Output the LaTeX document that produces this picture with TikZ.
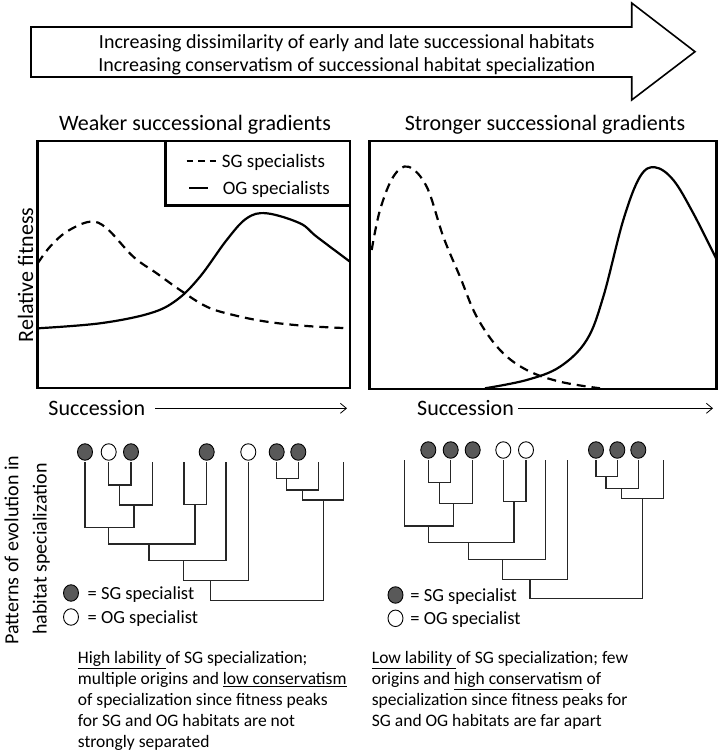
\documentclass[tikz,border=0pt]{standalone}
\usepackage{fontspec}
\setmainfont{Carlito}
\usetikzlibrary{shapes.geometric,arrows.meta}
\definecolor{sgfill}{gray}{0.35}

\begin{document}
\begin{tikzpicture}[x=1pt,y=-1pt,
    frame/.style={line width=2.6pt},
    fitcurve/.style={line width=2.2pt},
    sgcurve/.style={fitcurve, dash pattern=on 9pt off 6pt},
    branch/.style={line width=1.2pt, draw=black!85},
    sgdot/.style={ellipse, draw, line width=0.9pt, fill=sgfill, minimum width=15pt, minimum height=16.5pt, inner sep=0pt},
    ogdot/.style={sgdot, fill=white},
    axisarrow/.style={line width=0.8pt, -{Straight Barb[length=6pt,width=10pt]}},
    toptext/.style={font=\fontsize{20}{24}\selectfont, inner sep=0pt},
    bigtext/.style={font=\fontsize{22}{26}\selectfont, inner sep=0pt},
    keytext/.style={font=\fontsize{19}{23}\selectfont, inner sep=0pt},
    legtext/.style={font=\fontsize{18.5}{21}\selectfont, inner sep=0pt},
    bodytext/.style={font=\fontsize{17.5}{21}\selectfont, inner sep=0pt, align=left}]
    \useasboundingbox (0,0) rectangle (720,753);
    % big arrow at the top
    \coordinate (ar1) at (31,27);
    \coordinate (ar2) at (631.7,27);
    \coordinate (ar3) at (631.7,3);
    \coordinate (ar4) at (695,51.7);
    \coordinate (ar5) at (631.7,100);
    \coordinate (ar6) at (631.7,77);
    \coordinate (ar7) at (31,77);
    \draw[line width=1.6pt, line join=miter] (ar1) -- (ar2) -- (ar3) -- (ar4) -- (ar5) -- (ar6) -- (ar7) -- cycle;
    \node[toptext, anchor=base] (dissim) at (346.8,48.2) {Increasing dissimilarity of early and late successional habitats};
    \node[toptext, anchor=base] (conserv) at (346.8,71.4) {Increasing conservatism of successional habitat specialization};
    % titles
    \node[bigtext, anchor=base] (weak) at (195,130) {Weaker successional gradients};
    \node[bigtext, anchor=base] (strong) at (545,130) {Stronger successional gradients};
    % left plot
    \draw[frame] (37.7,141) rectangle (350,388);
    \draw[frame] (165.7,141) rectangle (350,205.7);
    \draw[line width=2pt, dash pattern=on 6.5pt off 5pt] (186.7,160.7) -- (216.7,160.7);
    \node[keytext, anchor=base west] (sgkey) at (221.7,167) {SG specialists};
    \draw[line width=2pt] (189,188.3) -- (208.3,188.3);
    \node[keytext, anchor=base west] (ogkey) at (222.7,194.6) {OG specialists};
    \draw[sgcurve] plot[smooth, tension=0.6] coordinates {(37.7,263.3) (50,246.7) (66.7,231.7) (90,221.7) (106.7,228.3) (133.3,256.7) (156.7,273.3) (180,290) (206.7,306.7) (233.3,315) (266.7,321.7) (306.7,326) (350,328.3)};
    \draw[fitcurve] plot[smooth, tension=0.6] coordinates {(37.7,328.3) (100,323.3) (150,313.3) (176.7,300) (200,276.7) (226.7,240) (246.7,218.3) (266.7,213.3) (300,223.3) (316.7,236.7) (350,261.7)};
    % right plot
    \draw[frame] (369.3,141) rectangle (716.7,389);
    \draw[sgcurve] plot[smooth, tension=0.6] coordinates {(371.7,250) (380,210) (393.3,176.7) (408.3,166.7) (426.7,186.7) (443.3,236.7) (460,276.7) (476.7,316.7) (500,350) (526.7,370) (560,381.7) (600,388.3)};
    \draw[fitcurve] plot[smooth, tension=0.6] coordinates {(485,388.3) (526.7,380) (560,366.7) (586.7,340) (603.3,296.7) (623.3,220) (640,176.7) (655,167.3) (673.3,180) (693.3,213.3) (716,258.3)};
    % axis labels
    \node[bigtext, rotate=90, anchor=base] (relfit) at (33,275) {Relative fitness};
    \node[bigtext, anchor=base west] (succA) at (48.3,415) {Succession};
    \coordinate (succAend) at (347,408.3);
    \draw[axisarrow] (155,408.3) -- (succAend);
    \node[bigtext, anchor=base west] (succB) at (417,415) {Succession};
    \coordinate (succBend) at (713,408.3);
    \draw[axisarrow] (518,408.3) -- (succBend);
    \node[toptext, rotate=90, anchor=base] (patt1) at (18.3,550) {Patterns of evolution in};
    \node[toptext, rotate=90, anchor=base] (patt2) at (46.5,549) {habitat specialization};
    % left tree, tips
    \coordinate (tA1) at (85,462);
    \coordinate (tA2) at (108.7,462);
    \coordinate (tA3) at (131,462);
    \coordinate (tA4) at (152.7,462);
    \coordinate (tA5) at (184,462);
    \coordinate (tA6) at (206.7,462);
    \coordinate (tA7) at (226,462);
    \coordinate (tA8) at (248.3,462);
    \coordinate (tA9) at (276.7,462);
    \coordinate (tA10) at (298.3,462);
    \coordinate (tA11) at (318.3,462);
    \coordinate (tA12) at (343.3,462);
    % left tree, inner nodes
    \coordinate (nA1) at (119.3,485);
    \coordinate (nA2) at (134,505);
    \coordinate (nA3) at (108.3,527.3);
    \coordinate (nA4) at (195,504.3);
    \coordinate (nA5) at (149,544);
    \coordinate (nA6) at (183.3,560.7);
    \coordinate (nA7) at (210.7,580.7);
    \coordinate (nA8) at (286.7,478.3);
    \coordinate (nA9) at (302.7,490);
    \coordinate (nA10) at (323.3,500);
    \coordinate (nA11) at (267,600.7);
    \draw[branch] (tA2) |- (nA1) -| (tA3);
    \draw[branch] (nA1) |- (nA2) -| (tA4);
    \draw[branch] (tA1) |- (nA3) -| (nA2);
    \draw[branch] (tA5) |- (nA4) -| (tA6);
    \draw[branch] (nA3) |- (nA5) -| (nA4);
    \draw[branch] (nA5) |- (nA6) -| (tA7);
    \draw[branch] (nA6) |- (nA7) -| (tA8);
    \draw[branch] (tA9) |- (nA8) -| (tA10);
    \draw[branch] (nA8) |- (nA9) -| (tA11);
    \draw[branch] (nA9) |- (nA10) -| (tA12);
    \draw[branch] (nA7) |- (nA11) -| (nA10);
    \node[sgdot] (dA1) at (85,452) {};
    \node[ogdot] (dA2) at (108.7,452) {};
    \node[sgdot] (dA3) at (131,452) {};
    \node[sgdot] (dA6) at (206.7,452) {};
    \node[ogdot] (dA8) at (248.3,452) {};
    \node[sgdot] (dA9) at (276.7,452) {};
    \node[sgdot] (dA10) at (298.3,452) {};
    % left key
    \node[sgdot] (keyA1) at (71,593) {};
    \node[legtext, anchor=base west] (keyA1txt) at (87.5,599) {= SG specialist};
    \node[ogdot] (keyA2) at (71,617) {};
    \node[legtext, anchor=base west] (keyA2txt) at (87.5,623) {= OG specialist};
    % right tree, tips
    \coordinate (tB1) at (404.7,460);
    \coordinate (tB2) at (428.3,460);
    \coordinate (tB3) at (450.7,460);
    \coordinate (tB4) at (472.7,460);
    \coordinate (tB5) at (503.3,460);
    \coordinate (tB6) at (526,460);
    \coordinate (tB7) at (545.7,460);
    \coordinate (tB8) at (567.7,460);
    \coordinate (tB9) at (596,460);
    \coordinate (tB10) at (617.3,460);
    \coordinate (tB11) at (638.3,460);
    \coordinate (tB12) at (663.3,460);
    % right tree, inner nodes
    \coordinate (nB1) at (439.3,482.7);
    \coordinate (nB2) at (453.3,503.3);
    \coordinate (nB3) at (428.3,526);
    \coordinate (nB4) at (514,501.7);
    \coordinate (nB5) at (468.3,542.7);
    \coordinate (nB6) at (502.7,559.3);
    \coordinate (nB7) at (530,579.3);
    \coordinate (nB8) at (606,476.7);
    \coordinate (nB9) at (621.7,488.3);
    \coordinate (nB10) at (642.3,498.3);
    \coordinate (nB11) at (586,598.7);
    \draw[branch] (tB2) |- (nB1) -| (tB3);
    \draw[branch] (nB1) |- (nB2) -| (tB4);
    \draw[branch] (tB1) |- (nB3) -| (nB2);
    \draw[branch] (tB5) |- (nB4) -| (tB6);
    \draw[branch] (nB3) |- (nB5) -| (nB4);
    \draw[branch] (nB5) |- (nB6) -| (tB7);
    \draw[branch] (nB6) |- (nB7) -| (tB8);
    \draw[branch] (tB9) |- (nB8) -| (tB10);
    \draw[branch] (nB8) |- (nB9) -| (tB11);
    \draw[branch] (nB9) |- (nB10) -| (tB12);
    \draw[branch] (nB7) |- (nB11) -| (nB10);
    \node[sgdot] (dB2) at (428.3,450) {};
    \node[sgdot] (dB3) at (450.7,450) {};
    \node[sgdot] (dB4) at (472.7,450) {};
    \node[ogdot] (dB5) at (503.3,450) {};
    \node[ogdot] (dB6) at (526,450) {};
    \node[sgdot] (dB9) at (596,450) {};
    \node[sgdot] (dB10) at (617.3,450) {};
    \node[sgdot] (dB11) at (638.3,450) {};
    % right key
    \node[sgdot] (keyB1) at (395.5,595) {};
    \node[legtext, anchor=base west] (keyB1txt) at (410.2,601) {= SG specialist};
    \node[ogdot] (keyB2) at (395.5,618.3) {};
    \node[legtext, anchor=base west] (keyB2txt) at (410.2,624.3) {= OG specialist};
    % texts at the bottom (base = last line)
    \node[bodytext, anchor=base west] (labA) at (77.7,747.6) {\underline{High lability\ }of SG specialization;\\multiple origins and \underline{low conservatism}\\of specialization since fitness peaks\\for SG and OG habitats are not\\strongly separated};
    \node[bodytext, anchor=base west] (labB) at (371.7,726.6) {\underline{Low lability\ }of SG specialization; few\\origins and \underline{high conservatism} of\\specialization since fitness peaks for\\SG and OG habitats are far apart};
\end{tikzpicture}
\end{document}
